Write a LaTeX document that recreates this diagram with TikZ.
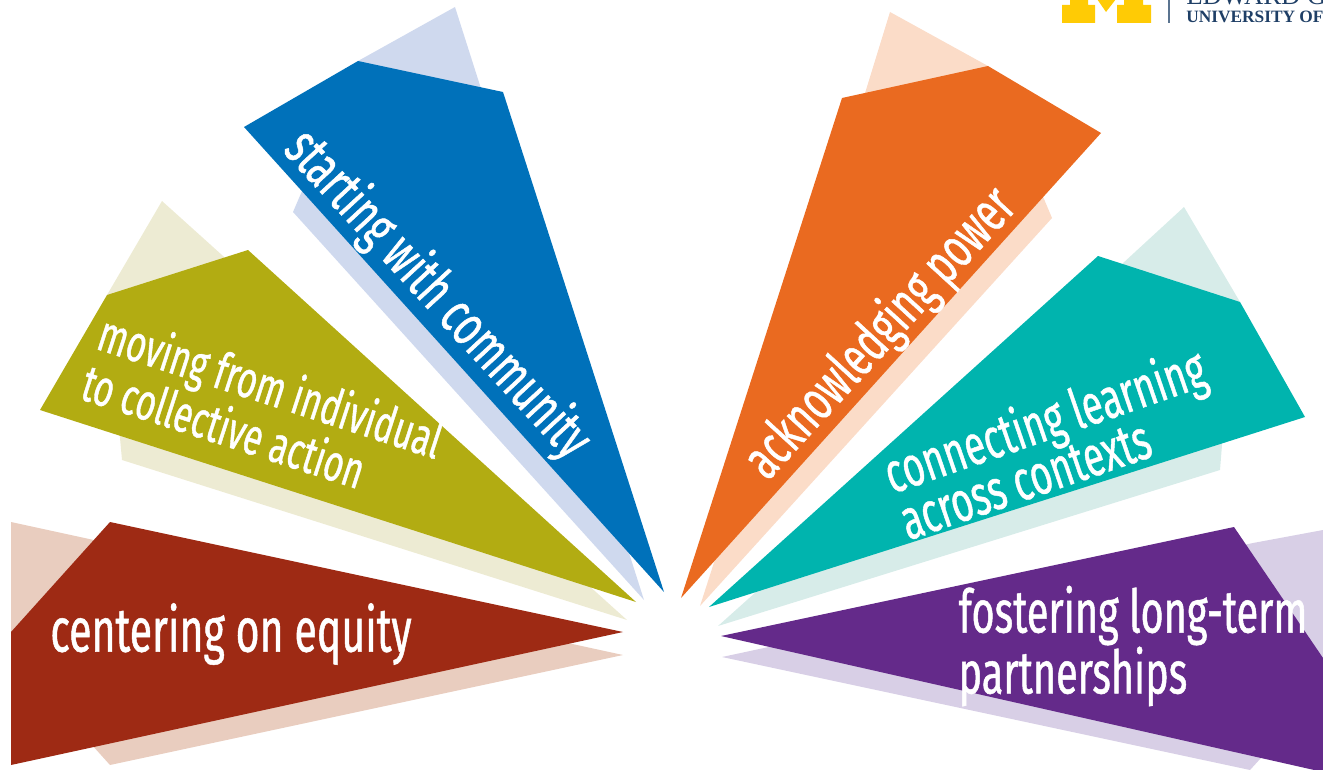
\documentclass[tikz,border=0pt]{standalone}
\usepackage{fontspec}
\setmainfont{Fira Sans}[FakeStretch=0.66,FakeBold=0.8]
\newfontfamily\logofont{Liberation Serif}
\definecolor{redD}{HTML}{9E2A14}\definecolor{redL}{HTML}{E9CDBF}
\definecolor{oliveD}{HTML}{B2AC12}\definecolor{oliveL}{HTML}{EDEBD3}
\definecolor{blueD}{HTML}{0071BA}\definecolor{blueL}{HTML}{CFD9EE}
\definecolor{orangeD}{HTML}{EA6A20}\definecolor{orangeL}{HTML}{FBDCC8}
\definecolor{tealD}{HTML}{00B4AE}\definecolor{tealL}{HTML}{D7ECE9}
\definecolor{purpleD}{HTML}{642A8A}\definecolor{purpleL}{HTML}{D8CFE6}
\definecolor{navy}{HTML}{1F3F66}\definecolor{maize}{HTML}{FFCB05}\definecolor{barc}{HTML}{5B7490}
\tikzset{
 label/.style 2 args={text=white,align=left,inner sep=0pt,font=\fontsize{#1}{#2}\selectfont}
}
\begin{document}
\begin{tikzpicture}[x=0.75pt,y=-0.75pt]
\useasboundingbox (0,0) rectangle (1323,770);
\clip (0,0) rectangle (1323,770);
% pale shadows
\fill[redL] (11,522)--(623,655)--(110,765)--(11,655)--cycle;
\fill[oliveL] (162,201)--(627,620)--(122,460)--(107,295)--cycle;
\fill[blueL] (455,7)--(644,600)--(293,212)--(358,61)--cycle;
\fill[orangeL] (890,12)--(988,66)--(1052,218)--(700,606)--(866,90)--cycle;
\fill[tealL] (1184,207)--(1240,302)--(1222,445)--(1220,470)--(718,626)--(1122,264)--cycle;
\fill[purpleL] (1323,530)--(1323,690)--(1250,770)--(722,657)--(1253,543)--cycle;
% bright blades
\fill[redD] (110,522)--(623,632)--(11,765)--(11,632)--cycle;
\fill[oliveD] (248,250)--(636,602)--(40,410)--(107,295)--cycle;
\fill[blueD] (503,92)--(664,592)--(244,127)--(358,61)--cycle;
\fill[orangeD] (988,66)--(1101,133)--(681,598)--(842,98)--cycle;
\fill[tealD] (1098,256)--(1240,302)--(1305,417)--(709,607)--cycle;
\fill[purpleD] (1234,527)--(1323,658)--(1323,772)--(721,636)--cycle;
% labels
\node[label={46.6}{46}] (equity) at (231,634) {centering on equity};
\node[label={45}{37}] (partner) at (1133,646) {fostering long-term\\partnerships};
\node[label={43.5}{44},rotate=-47.4] (community) at (437,295) {starting with community};
\node[label={38.7}{36},rotate=-18] (collective) at (263,410) {moving from individual\\to collective action};
\node[label={42.8}{43},rotate=47.5] (power) at (881,334) {acknowledging power};
\node[label={42.5}{37},rotate=19] (contexts) at (1052,442) {connecting learning\\across contexts};
% logo
\fill[maize] (1062,23)--(1095,23)--(1095,5)--(1088,5)--(1088,-1)--(1070,-1)--(1070,5)--(1062,5)--cycle;
\fill[maize] (1117,23)--(1151,23)--(1151,5)--(1143,5)--(1143,-1)--(1124,-1)--(1124,5)--(1117,5)--cycle;
\fill[maize] (1097,-1)--(1106,12)--(1116,-1)--cycle;
\fill[barc] (1168.4,-1) rectangle (1170,23);
\node[anchor=base west,inner sep=0pt,text=navy,font=\logofont\fontsize{20}{20}\selectfont] (edward) at (1186,5) {EDWARD G};
\node[anchor=base west,inner sep=0pt,text=navy,font=\logofont\bfseries\fontsize{13}{13}\selectfont] (um) at (1186,23) {UNIVERSITY OF};
\end{tikzpicture}
\end{document}
